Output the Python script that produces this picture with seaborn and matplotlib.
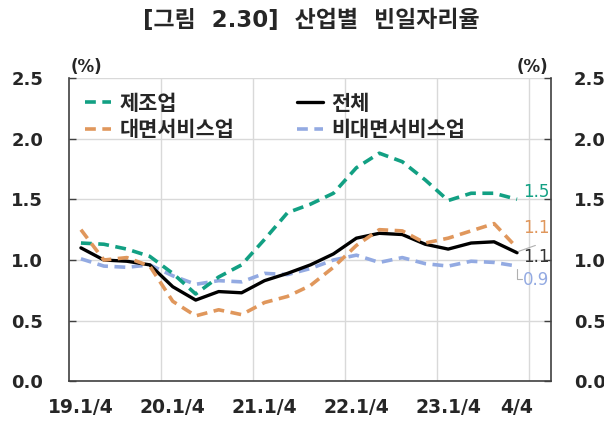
import matplotlib
matplotlib.use("Agg")
import matplotlib.pyplot as plt
import seaborn as sns
import numpy as np

# Quarterly job vacancy rates by industry (%), 2019Q1 - 2023Q4
quarters = ["19.1/4", "19.2/4", "19.3/4", "19.4/4",
            "20.1/4", "20.2/4", "20.3/4", "20.4/4",
            "21.1/4", "21.2/4", "21.3/4", "21.4/4",
            "22.1/4", "22.2/4", "22.3/4", "22.4/4",
            "23.1/4", "23.2/4", "23.3/4", "23.4/4"]
manufacturing = [1.14, 1.13, 1.09, 1.03, 0.89, 0.72, 0.86, 0.96, 1.17, 1.39,
                 1.46, 1.55, 1.76, 1.88, 1.81, 1.66, 1.49, 1.55, 1.55, 1.50]
contact_services = [1.25, 1.00, 1.02, 0.95, 0.66, 0.54, 0.59, 0.55, 0.65, 0.70,
                    0.79, 0.94, 1.12, 1.25, 1.24, 1.14, 1.18, 1.24, 1.30, 1.10]
total = [1.10, 1.00, 0.99, 0.96, 0.78, 0.67, 0.74, 0.73, 0.83, 0.89,
         0.96, 1.05, 1.18, 1.22, 1.21, 1.13, 1.09, 1.14, 1.15, 1.06]
noncontact_services = [1.01, 0.95, 0.94, 0.96, 0.87, 0.80, 0.83, 0.82, 0.89, 0.88,
                       0.93, 1.00, 1.04, 0.98, 1.02, 0.97, 0.95, 0.99, 0.98, 0.95]
tick_idx = [0, 4, 8, 12, 16, 19]
tick_labels = ["19.1/4", "20.1/4", "21.1/4", "22.1/4", "23.1/4", "4/4"]
y_ticks = [0.0, 0.5, 1.0, 1.5, 2.0, 2.5]

sns.set_theme(style="white")
plt.rcParams["font.family"] = ["DejaVu Sans", "Noto Sans CJK KR"]
plt.rcParams["axes.unicode_minus"] = False

TEAL = "#12A083"
ORANGE = "#E0975C"
BLUE = "#93AAE2"
BLACK = "#000000"
DASH = (0, (3, 1.8))

fig = plt.figure(figsize=(6.04, 4.25), dpi=100)
ax = fig.add_axes([0.115, 0.1026, 0.798, 0.714])

x = np.arange(len(quarters))
series = [
    ("제조업", manufacturing, TEAL, DASH, 2.6, 2),
    ("대면서비스업", contact_services, ORANGE, DASH, 2.6, 4),
    ("전체", total, BLACK, "-", 2.4, 3),
    ("비대면서비스업", noncontact_services, BLUE, DASH, 2.6, 1),
]
for name, vals, col, ls, lw, z in series:
    sns.lineplot(x=x, y=vals, ax=ax, color=col, linestyle=ls, linewidth=lw,
                 label=name, zorder=z)

ax.set_xlim(-0.5, 20.5)
ax.set_ylim(0, 2.5)

# gridlines at year boundaries, labels at the first quarter of each year
ax.set_xticks([3.5, 7.5, 11.5, 15.5, 19.5])
ax.set_xticklabels([])
ax.tick_params(axis="x", which="major", length=0)
ax.set_xticks(tick_idx, minor=True)
ax.set_xticklabels(tick_labels, minor=True, fontsize=13.5, fontweight="bold")
ax.tick_params(axis="x", which="minor", length=0, pad=12)

ax.set_yticks(y_ticks)
ax.set_yticklabels([f"{v:.1f}" for v in y_ticks], fontsize=13, fontweight="bold")
ax.tick_params(axis="y", direction="in", length=5, width=1, color="#404040", pad=19)

ax.grid(True, which="major", color="#d9d9d9", linewidth=1)
ax.set_axisbelow(True)
ax.set_xlabel("")
ax.set_ylabel("")

for side in ["left", "right", "bottom"]:
    ax.spines[side].set_visible(True)
    ax.spines[side].set_color("#404040")
    ax.spines[side].set_linewidth(1.2)
ax.spines["top"].set_visible(False)

ax2 = ax.twinx()
ax2.set_ylim(0, 2.5)
ax2.set_yticks(y_ticks)
ax2.set_yticklabels([f"{v:.1f}" for v in y_ticks], fontsize=13, fontweight="bold")
ax2.tick_params(axis="y", direction="in", length=5, width=1, color="#404040", pad=16)
for side in ["left", "right", "bottom", "top"]:
    ax2.spines[side].set_visible(False)

leg = ax.legend(ncol=2, loc="upper left", bbox_to_anchor=(0.0, 1.0),
                frameon=False, prop={"size": 15, "weight": "bold"},
                handlelength=1.25, handletextpad=0.4,
                columnspacing=3.0, labelspacing=0.3, borderaxespad=0.35)

# end-of-series value labels
lx = 19.27
ax.text(lx, manufacturing[-1] + 0.06, f"{manufacturing[-1]:.1f}", color=TEAL,
        fontsize=12, va="center", ha="left")
ax.text(lx, contact_services[-1] + 0.16, f"{contact_services[-1]:.1f}", color=ORANGE,
        fontsize=12, va="center", ha="left")
ax.text(lx, total[-1] - 0.035, f"{total[-1]:.1f}", color="#333333",
        fontsize=12, va="center", ha="left")
ax.text(lx, noncontact_services[-1] - 0.115, f"{noncontact_services[-1]:.1f}", color=BLUE,
        fontsize=12, va="center", ha="left")
ax.plot([19.05, 19.8], [total[-1] + 0.01, total[-1] + 0.06], color="#b0b0b0", lw=0.8, zorder=5)
ax.plot([19.0, 19.0, 19.2], [noncontact_services[-1] - 0.02, noncontact_services[-1] - 0.11,
                             noncontact_services[-1] - 0.11], color="#b0b0b0", lw=0.8, zorder=5)

# unit labels
fig.text(0.143, 0.842, "(%)", fontsize=12, fontweight="bold", ha="center", va="center")
fig.text(0.881, 0.842, "(%)", fontsize=12, fontweight="bold", ha="center", va="center")

fig.suptitle("[그림  2.30]  산업별  빈일자리율", x=0.515, y=0.98, fontsize=16.5, fontweight="bold")

fig.savefig("out.png", dpi=100, facecolor="white")
